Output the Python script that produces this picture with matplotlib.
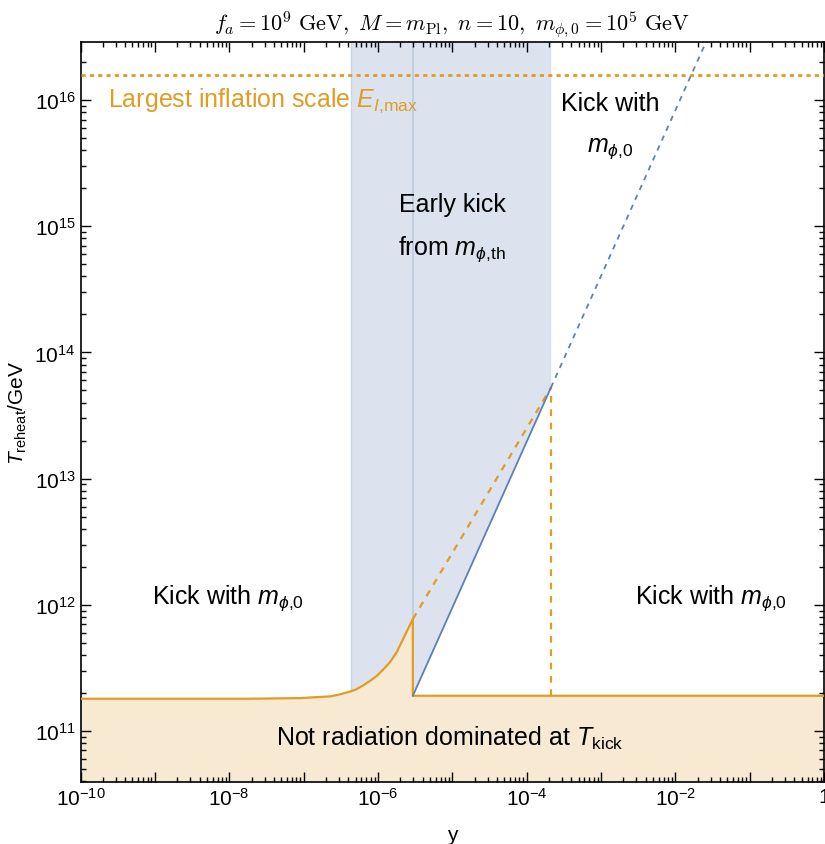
import numpy as np
import matplotlib
matplotlib.use("Agg")
import matplotlib.pyplot as plt

# colours (Mathematica default palette)
ORANGE = "#E19C24"
BLUE = "#5E81B5"

# --- data ---
# orange boundary (left branch, rising into the kink)
x_curve = [1e-10, 1.9e-8, 9.0e-8, 2.3e-7, 3.09e-7, 4.2e-7, 5.07e-7, 6.3e-7, 7.8e-7, 9.6e-7,
           1.17e-6, 1.45e-6, 1.8e-6, 2.2e-6, 2.54e-6, 2.95e-6]
T_curve = [1.80e11, 1.80e11, 1.82e11, 1.88e11, 1.95e11, 2.05e11, 2.13e11, 2.29e11, 2.49e11, 2.72e11,
           3.05e11, 3.5e11, 4.23e11, 5.4e11, 6.44e11, 7.7e11]
# right flat branch after the drop
x_right = [2.95e-6, 1.0]
T_right = [1.9e11, 1.9e11]
# meeting point of the blue and dashed orange lines
x_meet, T_meet = 2.12e-4, 5.25e13
# blue dashed line leaves the top of the frame here
x_blue_top, T_blue_top = 0.026, 2.9e16
# early-kick band
band_x = [4.3e-7, 2.12e-4]
# largest inflation scale
T_inflation = 1.57e16

xlim = (1e-10, 1.0)
ylim = (3.94e10, 2.9e16)

plt.rcParams["font.family"] = ["Liberation Sans", "DejaVu Sans"]
plt.rcParams["mathtext.fontset"] = "custom"
plt.rcParams["mathtext.rm"] = "Liberation Sans"
plt.rcParams["mathtext.it"] = "Liberation Sans:italic"
plt.rcParams["mathtext.bf"] = "Liberation Sans:bold"

fig = plt.figure(figsize=(8.25, 8.45), dpi=100)
ax = fig.add_axes([0.0976, 0.0734, 0.9012, 0.8761])
ax.set_xscale("log")
ax.set_yscale("log")
ax.set_xlim(*xlim)
ax.set_ylim(*ylim)

# orange region: not radiation dominated
fill_x = x_curve + x_right
fill_T = T_curve + T_right
ax.fill_between(fill_x, ylim[0], fill_T, color="#F8E9D3", lw=0, zorder=1)

# blue band: lower edge follows the orange curve, then the blue line
T_band_start = float(np.exp(np.interp(np.log(band_x[0]), np.log(x_curve), np.log(T_curve))))
lo_x = [band_x[0]] + [x for x in x_curve if x > band_x[0]] + [x_right[0], x_meet]
lo_T = [T_band_start] + [T for x, T in zip(x_curve, T_curve) if x > band_x[0]] + [T_right[0], T_meet]
ax.fill_between(lo_x, lo_T, ylim[1], color="#DCE3EF", lw=0, zorder=1)
ax.plot([band_x[0], band_x[0]], [T_band_start, ylim[1]], color="#C9D4E6", lw=1, zorder=1.5)
ax.plot([x_curve[-1], x_curve[-1]], [T_curve[-1], ylim[1]], color="#BCCAE0", lw=1.2, zorder=1.5)

# orange solid boundary
ax.plot(x_curve + x_right, T_curve + T_right, color=ORANGE, lw=1.6, zorder=3)
# orange dashed continuation and vertical drop
ax.plot([x_curve[-1], x_meet], [T_curve[-1], T_meet], color=ORANGE, lw=1.6, ls=(0, (3, 3)), zorder=3)
ax.plot([x_meet, x_meet], [T_right[0], T_meet], color=ORANGE, lw=1.6, ls=(0, (3, 3)), zorder=3)
# blue line
ax.plot([x_right[0], x_meet], [T_right[0], T_meet], color=BLUE, lw=1.3, zorder=3)
ax.plot([x_meet, x_blue_top], [T_meet, T_blue_top], color=BLUE, lw=1.3, ls=(0, (3, 3)), zorder=3)
# inflation scale
ax.axhline(T_inflation, color=ORANGE, lw=2, ls=(0, (1.5, 1.5)), zorder=3)

# labels in the plot
fs = 18
m0 = r"$m_{\phi{,}0}$"
ax.text(10**-9.63, 1e16, r"Largest inflation scale $E_{I{,}\mathrm{max}}$", color=ORANGE,
        fontsize=fs, ha="left", va="center")
ax.text(10**-2.88, 10**15.8, "Kick with\n" + m0, fontsize=fs, ha="center", va="center",
        linespacing=1.9)
ax.text(10**-5.0, 10**14.99, "Early kick\nfrom $m_{\\phi{,}\\mathrm{th}}$", fontsize=fs, ha="center",
        va="center", linespacing=1.8)
ax.text(10**-8.016, 10**12.063, "Kick with " + m0, fontsize=fs, ha="center", va="center")
ax.text(10**-1.52, 10**12.063, "Kick with " + m0, fontsize=fs, ha="center", va="center")
ax.text(10**-5.03, 10**10.95, r"Not radiation dominated at $T_\mathrm{kick}$", fontsize=fs,
        ha="center", va="center")

ax.set_title(r"$f_a = 10^9\ \mathrm{GeV},\ M = m_{\mathrm{Pl}},\ n = 10,\ m_{\phi,0} = 10^5\ \mathrm{GeV}$",
             fontsize=16, math_fontfamily="cm", pad=8)
ax.set_xlabel("y", fontsize=15, labelpad=12)
ax.set_ylabel(r"$T_\mathrm{reheat}$/GeV", fontsize=15)

# ticks
ax.xaxis.set_major_locator(matplotlib.ticker.LogLocator(base=10, numticks=20))
ax.xaxis.set_minor_locator(matplotlib.ticker.LogLocator(base=10, subs=np.arange(2, 10), numticks=20))
ax.xaxis.set_major_formatter(matplotlib.ticker.FuncFormatter(
    lambda v, p: ("1" if abs(np.log10(v)) < 1e-9 else r"$10^{%d}$" % round(np.log10(v)))
    if round(np.log10(v)) % 2 == 0 else ""))
ax.yaxis.set_major_locator(matplotlib.ticker.LogLocator(base=10, numticks=20))
ax.yaxis.set_minor_locator(matplotlib.ticker.LogLocator(base=10, subs=np.arange(2, 10), numticks=20))
ax.yaxis.set_major_formatter(matplotlib.ticker.FuncFormatter(
    lambda v, p: r"$10^{%d}$" % round(np.log10(v))))
ax.tick_params(which="both", direction="in", top=True, right=True, labelsize=15, width=1)
ax.tick_params(which="major", length=7)
ax.tick_params(which="minor", length=3.5)
for s in ax.spines.values():
    s.set_linewidth(1.2)

fig.savefig("out.png", dpi=100)
